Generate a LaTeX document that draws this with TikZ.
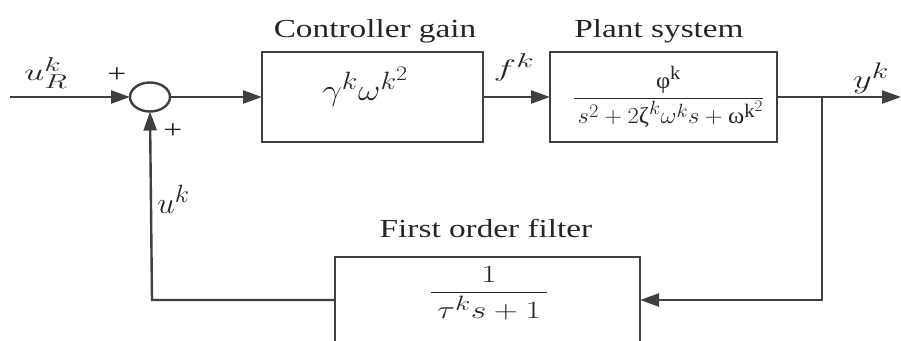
\documentclass[tikz,border=0pt]{standalone}
\usepackage{amsmath}
\usepackage{graphicx}
\usepackage{fontspec}
\setmainfont{Liberation Serif}
\usetikzlibrary{arrows.meta,shapes.geometric}
\definecolor{linegray}{HTML}{404040}
% horizontally widened text
\newcommand\widetext[2]{\scalebox{#1}[1]{#2}}
% math set at 24.88pt, then scaled (x, y)
\newcommand\mathlbl[3]{\scalebox{#1}[#2]{\fontsize{24.88}{28}\selectfont#3}}
\tikzset{
  wire/.style={draw=linegray, line width=2.4pt},
  sig/.style={wire, -{Triangle[length=19pt,width=13pt]}},
  blockbox/.style={draw=linegray, line width=2.4pt, rectangle, inner sep=0pt, outer sep=0pt},
  title/.style={font=\fontsize{26}{30}\selectfont, inner sep=0pt, anchor=base, text=black!85},
  lbl/.style={inner sep=0pt, anchor=base, text=black!85}
}
\begin{document}
\begin{tikzpicture}[x=1pt, y=-1pt]
\path[use as bounding box, clip] (0,0) rectangle (901,340);

% summing junction
\node[ellipse, draw=linegray, line width=2.4pt, minimum width=40pt, minimum height=29pt, inner sep=0pt, outer sep=0pt] (sum) at (150,97) {};

% blocks
\node[blockbox, minimum width=221pt, minimum height=90pt] (ctrl) at (372.5,97) {};
\node[blockbox, minimum width=227pt, minimum height=90pt] (plant) at (663.5,97) {};
\node[blockbox, minimum width=305pt, minimum height=110pt] (filt) at (487.5,312) {};

% block contents
\node[lbl] (kgain) at (365.5,100)
  {\mathlbl{1.387}{1.206}{$\gamma^k\omega^{k^2}$}};
\node[lbl] (gplant) at (668.5,103.75)
  {\mathlbl{0.989}{0.924}{$\dfrac{\mbox{φ}^{\mathrm{k}}}{\,s^2+2\mbox{ζ}^k\omega^k s+\mbox{ω}^{\mathrm{k}^2}}$}};
\node[lbl] (gfilt) at (489,299.2)
  {\mathlbl{1.35}{1.0}{$\dfrac{1}{\,\tau^k s+1\,}$}};

% block titles
\node[title] (tctrl) at (375,37) {\widetext{1.28}{Controller gain}};
\node[title] (tplant) at (659,37) {\widetext{1.28}{Plant system}};
\node[title] (tfilt) at (486,237) {\widetext{1.28}{First order filter}};

% connection points
\coordinate (in) at (10,97);
\coordinate (out) at (901,97);
\coordinate (branch) at (822,97);
\coordinate (fbr) at (822,300);
\coordinate (fbl) at (152,300);

% forward path
\draw[sig] (in) -- (sum.west);
\draw[sig] (sum.east) -- (ctrl.west);
\draw[sig] (ctrl.east) -- (plant.west);
\draw[sig] (plant.east) -- (out);

% feedback path
\draw[sig] (branch) -- (fbr) -- (filt.east |- fbr);
\draw[sig] (filt.west |- fbl) -- (fbl) -- (sum.south);

% signal labels
\node[lbl] (uR) at (46,80) {\mathlbl{1.447}{0.965}{$u_R^k$}};
\node[lbl, font=\fontsize{26}{30}\selectfont] (p1) at (117,82) {\widetext{1.3}{+}};
\node[lbl, font=\fontsize{26}{30}\selectfont] (p2) at (173,138) {\widetext{1.3}{+}};
\node[lbl] (fk) at (514,76) {\mathlbl{1.543}{0.965}{$f^k$}};
\node[lbl] (yk) at (871,88.5) {\mathlbl{1.465}{1.085}{$y^k$}};
\node[lbl] (uk) at (173.5,213) {\mathlbl{1.266}{1.206}{$u^k$}};
\end{tikzpicture}
\end{document}
